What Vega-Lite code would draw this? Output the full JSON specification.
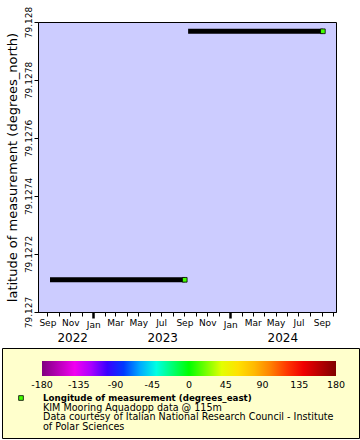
{
  "$schema": "https://vega.github.io/schema/vega-lite/v6.json",
  "padding": {"left": 1, "top": 5, "right": 0, "bottom": 0},
  "background": "white",
  "config": {
    "font": "DejaVu Sans",
    "axis": {"labelFont": "DejaVu Sans", "titleFont": "DejaVu Sans", "labelColor": "black", "titleColor": "black", "domainColor": "black", "tickColor": "black", "grid": false},
    "legend": {"labelFont": "DejaVu Sans"}
  },
  "spacing": 3,
  "resolve": {"scale": {"fill": "independent"}, "legend": {"fill": "independent"}},
  "vconcat": [
    {
      "bounds": "flush",
      "spacing": 0,
      "resolve": {"scale": {"fill": "independent"}, "legend": {"fill": "independent"}},
      "hconcat": [
        {
          "width": 36,
          "height": 290,
          "view": {"stroke": null, "fill": null},
          "data": {"values": [{"t": ""}]},
          "mark": {"type": "text"},
          "encoding": {"text": {"field": "t"}}
        },
        {
          "width": 298,
          "height": 290,
          "view": {"fill": "#ccccff", "stroke": "black", "strokeWidth": 1},
          "resolve": {"axis": {"x": "independent"}},
          "layer": [
            {
              "data": {"values": [
                {"start": "2022-09-08", "end": "2023-09-02", "lat": 79.127111},
                {"start": "2023-09-11", "end": "2024-09-04", "lat": 79.127968}
              ]},
              "mark": {"type": "rule", "color": "black", "strokeWidth": 5, "strokeCap": "butt"},
              "encoding": {
                "x": {
                  "field": "start", "type": "temporal",
                  "scale": {"type": "utc", "domain": [{"year": 2022, "month": 8, "date": 7, "utc": true}, {"year": 2024, "month": 10, "date": 9, "utc": true}], "nice": false},
                  "axis": {
                    "orient": "bottom",
                    "title": null,
                    "values": [
                      {"year": 2022, "month": 9, "date": 1, "utc": true},
                      {"year": 2022, "month": 10, "date": 1, "utc": true},
                      {"year": 2022, "month": 11, "date": 1, "utc": true},
                      {"year": 2022, "month": 12, "date": 1, "utc": true},
                      {"year": 2023, "month": 1, "date": 1, "utc": true},
                      {"year": 2023, "month": 2, "date": 1, "utc": true},
                      {"year": 2023, "month": 3, "date": 1, "utc": true},
                      {"year": 2023, "month": 4, "date": 1, "utc": true},
                      {"year": 2023, "month": 5, "date": 1, "utc": true},
                      {"year": 2023, "month": 6, "date": 1, "utc": true},
                      {"year": 2023, "month": 7, "date": 1, "utc": true},
                      {"year": 2023, "month": 8, "date": 1, "utc": true},
                      {"year": 2023, "month": 9, "date": 1, "utc": true},
                      {"year": 2023, "month": 10, "date": 1, "utc": true},
                      {"year": 2023, "month": 11, "date": 1, "utc": true},
                      {"year": 2023, "month": 12, "date": 1, "utc": true},
                      {"year": 2024, "month": 1, "date": 1, "utc": true},
                      {"year": 2024, "month": 2, "date": 1, "utc": true},
                      {"year": 2024, "month": 3, "date": 1, "utc": true},
                      {"year": 2024, "month": 4, "date": 1, "utc": true},
                      {"year": 2024, "month": 5, "date": 1, "utc": true},
                      {"year": 2024, "month": 6, "date": 1, "utc": true},
                      {"year": 2024, "month": 7, "date": 1, "utc": true},
                      {"year": 2024, "month": 8, "date": 1, "utc": true},
                      {"year": 2024, "month": 9, "date": 1, "utc": true},
                      {"year": 2024, "month": 10, "date": 1, "utc": true}
                    ],
                    "labelExpr": "utcmonth(datum.value) % 2 == 0 ? utcFormat(datum.value, '%b') : ''",
                    "labelFontSize": 9,
                    "labelPadding": 2,
                    "labelOverlap": false,
                    "labelFlush": false,
                    "tickSize": {"condition": {"test": "utcmonth(datum.value) == 0", "value": 6}, "value": 4},
                    "tickWidth": {"condition": {"test": "utcmonth(datum.value) == 0", "value": 2.5}, "value": 1}
                  }
                },
                "x2": {"field": "end"},
                "y": {
                  "field": "lat", "type": "quantitative",
                  "scale": {"domain": [79.127, 79.128], "nice": false, "zero": false},
                  "axis": {
                    "title": "latitude of measurement (degrees_north)",
                    "titleFontSize": 13,
                    "titleFontWeight": "normal",
                    "titlePadding": 5,
                    "values": [79.127, 79.1271, 79.1272, 79.1273, 79.1274, 79.1275, 79.1276, 79.1277, 79.1278, 79.1279, 79.128],
                    "labelExpr": "round(datum.value * 10000) % 2 == 0 ? format(datum.value, '.6~g') : ''",
                    "labelAngle": -90,
                    "labelAlign": "center",
                    "labelBaseline": "bottom",
                    "labelFontSize": 9,
                    "labelPadding": 1,
                    "labelOverlap": false,
                    "labelFlush": false,
                    "tickSize": 4
                  }
                }
              }
            },
            {
              "data": {"values": [
                {"year": "2022", "pos": "2022-11-06"},
                {"year": "2023", "pos": "2023-07-04"},
                {"year": "2024", "pos": "2024-05-19"}
              ]},
              "mark": {"type": "text", "opacity": 0},
              "encoding": {
                "x": {
                  "field": "pos", "type": "temporal",
                  "axis": {
                    "orient": "bottom",
                    "title": null,
                    "values": [
                      {"year": 2022, "month": 11, "date": 6, "utc": true},
                      {"year": 2023, "month": 7, "date": 4, "utc": true},
                      {"year": 2024, "month": 5, "date": 19, "utc": true}
                    ],
                    "labelExpr": "utcFormat(datum.value, '%Y')",
                    "labelFontSize": 12,
                    "labelPadding": 20.5,
                    "ticks": false,
                    "domain": false,
                    "labelOverlap": false,
                    "labelFlush": false
                  }
                },
                "text": {"field": "year"}
              }
            },
            {
              "data": {"values": [
                {"time": "2023-09-02", "lat": 79.127111, "lon": 11.9},
                {"time": "2024-09-04", "lat": 79.127968, "lon": 11.9}
              ]},
              "mark": {"type": "square", "size": 22, "filled": true, "opacity": 1, "stroke": "black", "strokeWidth": 0.8},
              "encoding": {
                "x": {"field": "time", "type": "temporal", "axis": null},
                "y": {"field": "lat", "type": "quantitative"},
                "fill": {
                  "field": "lon", "type": "quantitative",
                  "scale": {"domain": [-180, -135, -90, -45, 0, 45, 90, 135, 180], "range": ["#800080", "#ff00ff", "#0000ff", "#00ffff", "#00ff00", "#ffff00", "#ffa500", "#ff0000", "#800000"], "interpolate": "rgb"},
                  "legend": null
                }
              }
            }
          ]
        }
      ]
    },
    {
      "width": 357,
      "height": 90,
      "view": {"fill": "#ffffcc", "stroke": "black", "strokeWidth": 1},
      "resolve": {"scale": {"x": "independent", "y": "independent"}},
      "layer": [
        {
          "data": {"values": [{"item": "marker", "line": 1, "lon": 11.9}]},
          "mark": {"type": "square", "size": 22, "filled": true, "opacity": 1, "stroke": "black", "strokeWidth": 0.8},
          "encoding": {
            "x": {"field": "item", "type": "nominal", "scale": {"type": "point", "domain": ["marker", "text"], "range": [19, 41], "padding": 0}, "axis": null},
            "y": {"field": "line", "type": "ordinal", "scale": {"type": "point", "domain": [1, 2, 3, 4], "range": [50, 78.5], "padding": 0}, "axis": null},
            "fill": {
              "field": "lon", "type": "quantitative",
              "scale": {"domain": [-180, -135, -90, -45, 0, 45, 90, 135, 180], "range": ["#800080", "#ff00ff", "#0000ff", "#00ffff", "#00ff00", "#ffff00", "#ffa500", "#ff0000", "#800000"], "interpolate": "rgb"},
              "legend": {
                "orient": "none",
                "legendX": 40,
                "legendY": 13,
                "direction": "horizontal",
                "title": null,
                "gradientLength": 294,
                "gradientThickness": 15,
                "gradientStrokeWidth": 0,
                "values": [-180, 180],
                "labelExpr": "''",
                "labelFontSize": 1
              }
            }
          }
        },
        {
          "data": {"values": [
            {"v": "-180"}, {"v": "-135"}, {"v": "-90"}, {"v": "-45"}, {"v": "0"}, {"v": "45"}, {"v": "90"}, {"v": "135"}, {"v": "180"}
          ]},
          "mark": {"type": "text", "align": "center", "baseline": "middle", "fontSize": 9.5, "color": "black"},
          "encoding": {
            "x": {"field": "v", "type": "quantitative", "scale": {"domain": [-180, 180], "range": [40, 334], "nice": false, "zero": false}, "axis": null},
            "y": {"datum": "labels", "type": "nominal", "scale": {"type": "point", "domain": ["labels"], "range": [37, 37]}, "axis": null},
            "text": {"field": "v", "type": "nominal"}
          }
        },
        {
          "data": {"values": [
            {"item": "text", "line": 1, "label": "Longitude of measurement (degrees_east)"}
          ]},
          "mark": {"type": "text", "align": "left", "baseline": "middle", "fontSize": 8.7, "fontWeight": "bold", "color": "black"},
          "encoding": {
            "x": {"field": "item", "type": "nominal", "scale": {"type": "point", "domain": ["marker", "text"], "range": [19, 41], "padding": 0}, "axis": null},
            "y": {"field": "line", "type": "ordinal", "scale": {"type": "point", "domain": [1, 2, 3, 4], "range": [50, 78.5], "padding": 0}, "axis": null},
            "text": {"field": "label"}
          }
        },
        {
          "data": {"values": [
            {"item": "text", "line": 2, "label": "KIM Mooring Aquadopp data @ 115m"},
            {"item": "text", "line": 3, "label": "Data courtesy of Italian National Research Council - Institute"},
            {"item": "text", "line": 4, "label": "of Polar Sciences"}
          ]},
          "mark": {"type": "text", "align": "left", "baseline": "middle", "fontSize": 9.6, "color": "black"},
          "encoding": {
            "x": {"field": "item", "type": "nominal", "scale": {"type": "point", "domain": ["marker", "text"], "range": [19, 41], "padding": 0}, "axis": null},
            "y": {"field": "line", "type": "ordinal", "scale": {"type": "point", "domain": [1, 2, 3, 4], "range": [50, 78.5], "padding": 0}, "axis": null},
            "text": {"field": "label"}
          }
        }
      ]
    }
  ]
}
